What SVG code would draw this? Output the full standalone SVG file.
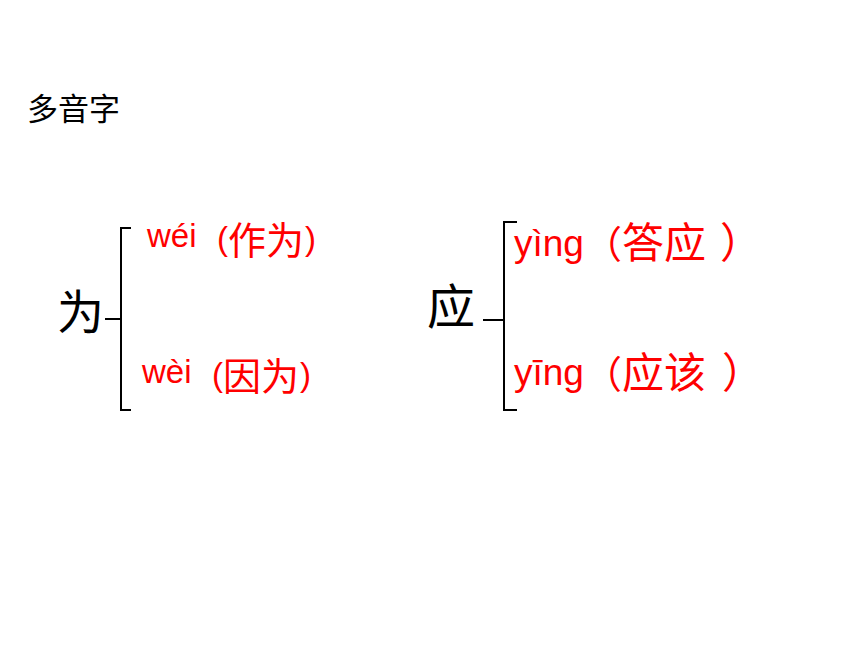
<svg xmlns="http://www.w3.org/2000/svg" width="860" height="645" viewBox="0 0 860 645">
<style>
.t{font-family:"Liberation Sans","Noto Sans CJK SC",sans-serif;fill:#ff0000}
.c{font-family:"Noto Sans CJK SC",sans-serif}
.big{font-family:"Noto Sans CJK SC",serif;fill:#000}
.br{fill:none;stroke:#000;stroke-width:2}
</style>
<rect width="860" height="645" fill="#fff"/>
<g id="title"><text class="big" x="27" y="120" font-size="31">多音字</text></g>
<g id="node-wei"><text class="big" x="57" y="329" font-size="47">为</text></g>
<g id="node-wei1"><text class="t" font-size="33"><tspan x="147" y="247">wéi</tspan><tspan x="217" y="250">(</tspan><tspan class="c" x="228" y="254" font-size="38">作为</tspan><tspan x="305" y="250">)</tspan></text></g>
<g id="node-wei2"><text class="t" font-size="33"><tspan x="142" y="383">wèi</tspan><tspan x="212" y="386">(</tspan><tspan class="c" x="223" y="390" font-size="38">因为</tspan><tspan x="300" y="386">)</tspan></text></g>
<g id="node-ying"><text class="big" x="427" y="324" font-size="48">应</text></g>
<g id="node-ying1"><text class="t" font-size="37"><tspan x="514" y="256">yìng</tspan><tspan class="c" y="258" font-size="38">（</tspan><tspan class="c" font-size="42">答应 </tspan><tspan class="c" x="720" font-size="42">）</tspan></text></g>
<g id="node-ying2"><text class="t" font-size="37"><tspan x="514" y="385">yīng</tspan><tspan class="c" y="388" font-size="38">（</tspan><tspan class="c" font-size="42">应该 </tspan><tspan class="c" x="722" font-size="42">）</tspan></text></g>
<g id="connectors">
<path class="br" d="M131,228 H121 V410 H131 M121,319 H105"/>
<path class="br" d="M517,222 H504 V410 H517 M504,320 H483"/>
</g>
</svg>
